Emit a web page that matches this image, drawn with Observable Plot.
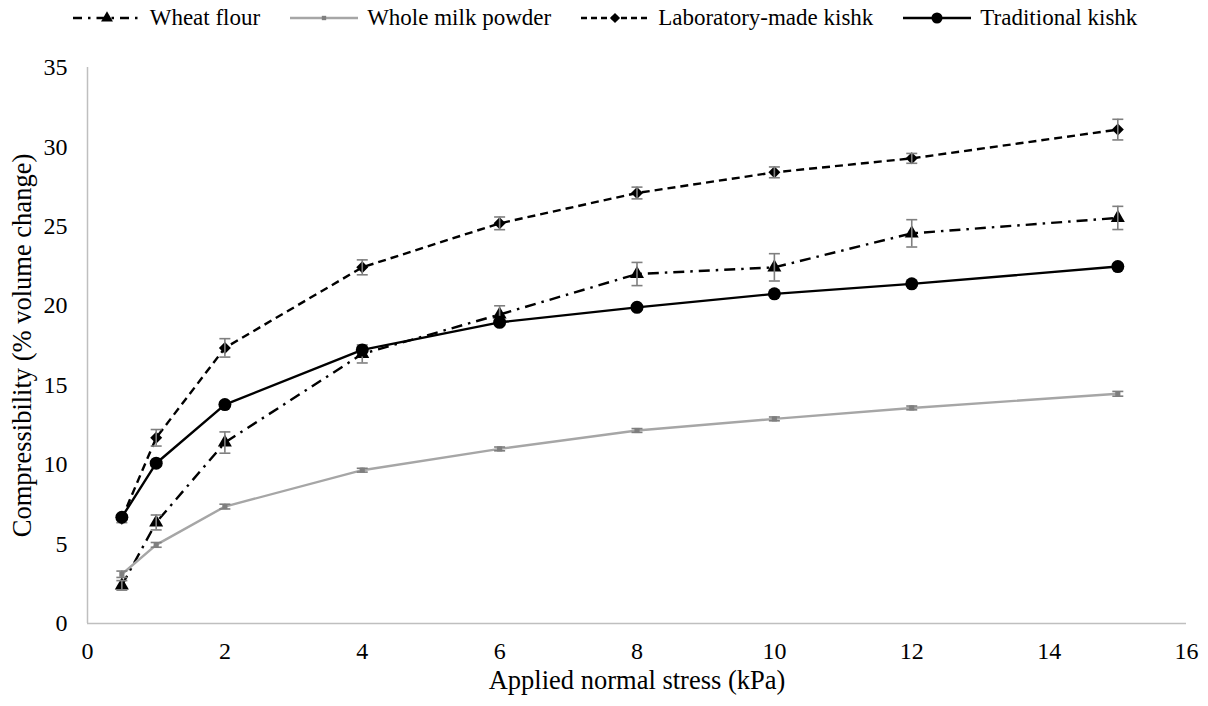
<!DOCTYPE html>
<html>
<head>
<meta charset="utf-8">
<script src="https://cdn.jsdelivr.net/npm/d3@7"></script>
<script src="https://cdn.jsdelivr.net/npm/@observablehq/plot@0.6"></script>
<style>
  html, body { margin: 0; padding: 0; background: #fff; }
  body { width: 1208px; height: 706px; overflow: hidden; font-family: "Liberation Serif", "Times New Roman", serif; }
  #legend { height: 36px; display: flex; justify-content: center; align-items: center; font-size: 23px; color: #000; padding-left: 2px; }
  .item { display: flex; align-items: center; margin: 0 15px; }
  .item svg { margin-right: 9px; }
  #chart svg, #chart svg text { font-family: "Liberation Serif", "Times New Roman", serif !important; }
</style>
</head>
<body>
<div id="legend"></div>
<div id="chart"></div>
<script>
// ---- data ----
const stress = [0.5, 1, 2, 4, 6, 8, 10, 12, 15];
const seriesNames = ["Wheat flour", "Whole milk powder", "Laboratory-made kishk", "Traditional kishk"];
const wheatFlour = [2.4, 6.36, 11.39, 16.97, 19.45, 22.0, 22.42, 24.56, 25.53];
const wheatFlourErr = [0.3, 0.47, 0.67, 0.57, 0.55, 0.73, 0.86, 0.86, 0.73];
const wholeMilkPowder = [3.1, 4.95, 7.36, 9.65, 10.99, 12.15, 12.88, 13.57, 14.46];
const wholeMilkPowderErr = [0.2, 0.15, 0.15, 0.12, 0.12, 0.12, 0.12, 0.12, 0.15];
const labKishk = [6.6, 11.69, 17.35, 22.42, 25.19, 27.1, 28.4, 29.28, 31.09];
const labKishkErr = [0.25, 0.52, 0.58, 0.47, 0.4, 0.37, 0.34, 0.31, 0.65];
const tradKishk = [6.69, 10.09, 13.78, 17.22, 18.96, 19.9, 20.75, 21.38, 22.47];
const tradKishkErr = [0.15, 0.15, 0.15, 0.15, 0.15, 0.15, 0.15, 0.15, 0.15];
const xTicks = [0, 2, 4, 6, 8, 10, 12, 14, 16];
const yTicks = [0, 5, 10, 15, 20, 25, 30, 35];
const xTitle = "Applied normal stress (kPa)";
const yTitle = "Compressibility (% volume change)";

const valuesBySeries = [wheatFlour, wholeMilkPowder, labKishk, tradKishk];
const errBySeries = [wheatFlourErr, wholeMilkPowderErr, labKishkErr, tradKishkErr];

const FONT = "Liberation Serif";

const styles = {
  "Wheat flour": {stroke: "#000", dash: "11,6,2.5,6", symbol: "triangle", r: 5.2, fill: "#000", width: 2.4},
  "Whole milk powder": {stroke: "#A6A6A6", dash: null, symbol: "square", r: 2.9, fill: "#7F7F7F", width: 2.4},
  "Laboratory-made kishk": {stroke: "#000", dash: "8,5", symbol: "diamond2", r: 5.4, fill: "#000", width: 2.4},
  "Traditional kishk": {stroke: "#000", dash: null, symbol: "circle", r: 6.5, fill: "#000", width: 2.4, barsBelow: true}
};

const table = seriesNames.map((name, i) =>
  stress.map((s, j) => ({series: name, x: s, y: valuesBySeries[i][j], e: errBySeries[i][j]}))
);

// horizontal cap symbol for error bars
const capSymbol = {
  draw(context, size) {
    const w = Math.sqrt(size / Math.PI);
    context.moveTo(-w, 0);
    context.lineTo(w, 0);
  }
};

const errColor = "#7F7F7F";
const marks = [
  Plot.ruleX([0], {stroke: "#BFBFBF", strokeWidth: 1.5}),
  Plot.ruleY([0], {stroke: "#BFBFBF", strokeWidth: 1.5}),
  Plot.axisX({ticks: xTicks, tickSize: 0, tickPadding: 18, label: null, fontSize: 24, fontFamily: FONT}),
  Plot.axisY({ticks: yTicks, tickSize: 0, tickPadding: 20, label: null, fontSize: 24, fontFamily: FONT}),
  Plot.text([xTitle], {frameAnchor: "bottom", dy: 65, fontSize: 26.5, fontFamily: FONT}),
  Plot.text([yTitle], {frameAnchor: "left", textAnchor: "middle", rotate: -90, dx: -65, fontSize: 26.5, fontFamily: FONT})
];

seriesNames.forEach((name, i) => {
  const st = styles[name];
  const data = table[i];
  const bars = [
    Plot.ruleX(data, {x: "x", y1: d => d.y - d.e, y2: d => d.y + d.e, stroke: errColor, strokeWidth: 1.6}),
    Plot.dot(data, {x: "x", y: d => d.y + d.e, symbol: capSymbol, r: 5.5, fill: "none", stroke: errColor, strokeWidth: 1.6}),
    Plot.dot(data, {x: "x", y: d => d.y - d.e, symbol: capSymbol, r: 5.5, fill: "none", stroke: errColor, strokeWidth: 1.6})
  ];
  const line = Plot.line(data, {x: "x", y: "y", stroke: st.stroke, strokeWidth: st.width, strokeDasharray: st.dash, strokeLinecap: "butt"});
  const dots = Plot.dot(data, {x: "x", y: "y", symbol: st.symbol, r: st.r, fill: st.fill, stroke: "none"});
  if (st.barsBelow) marks.push(line, ...bars, dots);
  else marks.push(line, dots, ...bars);
});

const chart = Plot.plot({
  width: 1208,
  height: 670,
  marginLeft: 87,
  marginRight: 22,
  marginTop: 31,
  marginBottom: 83,
  style: {fontFamily: FONT, color: "#000", background: "#fff"},
  x: {domain: [0, 16]},
  y: {domain: [0, 35]},
  marks
});
document.getElementById("chart").appendChild(chart);

// ---- legend ----
const legend = document.getElementById("legend");
seriesNames.forEach(name => {
  const st = styles[name];
  const item = document.createElement("div");
  item.className = "item";
  const ns = "http://www.w3.org/2000/svg";
  const svg = document.createElementNS(ns, "svg");
  svg.setAttribute("width", 68);
  svg.setAttribute("height", 20);
  const line = document.createElementNS(ns, "line");
  line.setAttribute("x1", 0); line.setAttribute("x2", 68);
  line.setAttribute("y1", 10); line.setAttribute("y2", 10);
  line.setAttribute("stroke", st.stroke);
  line.setAttribute("stroke-width", st.width);
  if (st.dash) line.setAttribute("stroke-dasharray", name === "Wheat flour" ? "9,6,2.5,6" : "6,4");
  svg.appendChild(line);
  const sym = {triangle: d3.symbolTriangle, square: d3.symbolSquare, diamond2: d3.symbolDiamond2, circle: d3.symbolCircle}[st.symbol];
  const p = document.createElementNS(ns, "path");
  const r = st.r * 0.85;
  p.setAttribute("d", d3.symbol(sym, Math.PI * r * r)());
  p.setAttribute("transform", "translate(34,10)");
  p.setAttribute("fill", st.fill);
  svg.appendChild(p);
  item.appendChild(svg);
  const span = document.createElement("span");
  span.textContent = name;
  item.appendChild(span);
  legend.appendChild(item);
});
</script>
</body>
</html>
